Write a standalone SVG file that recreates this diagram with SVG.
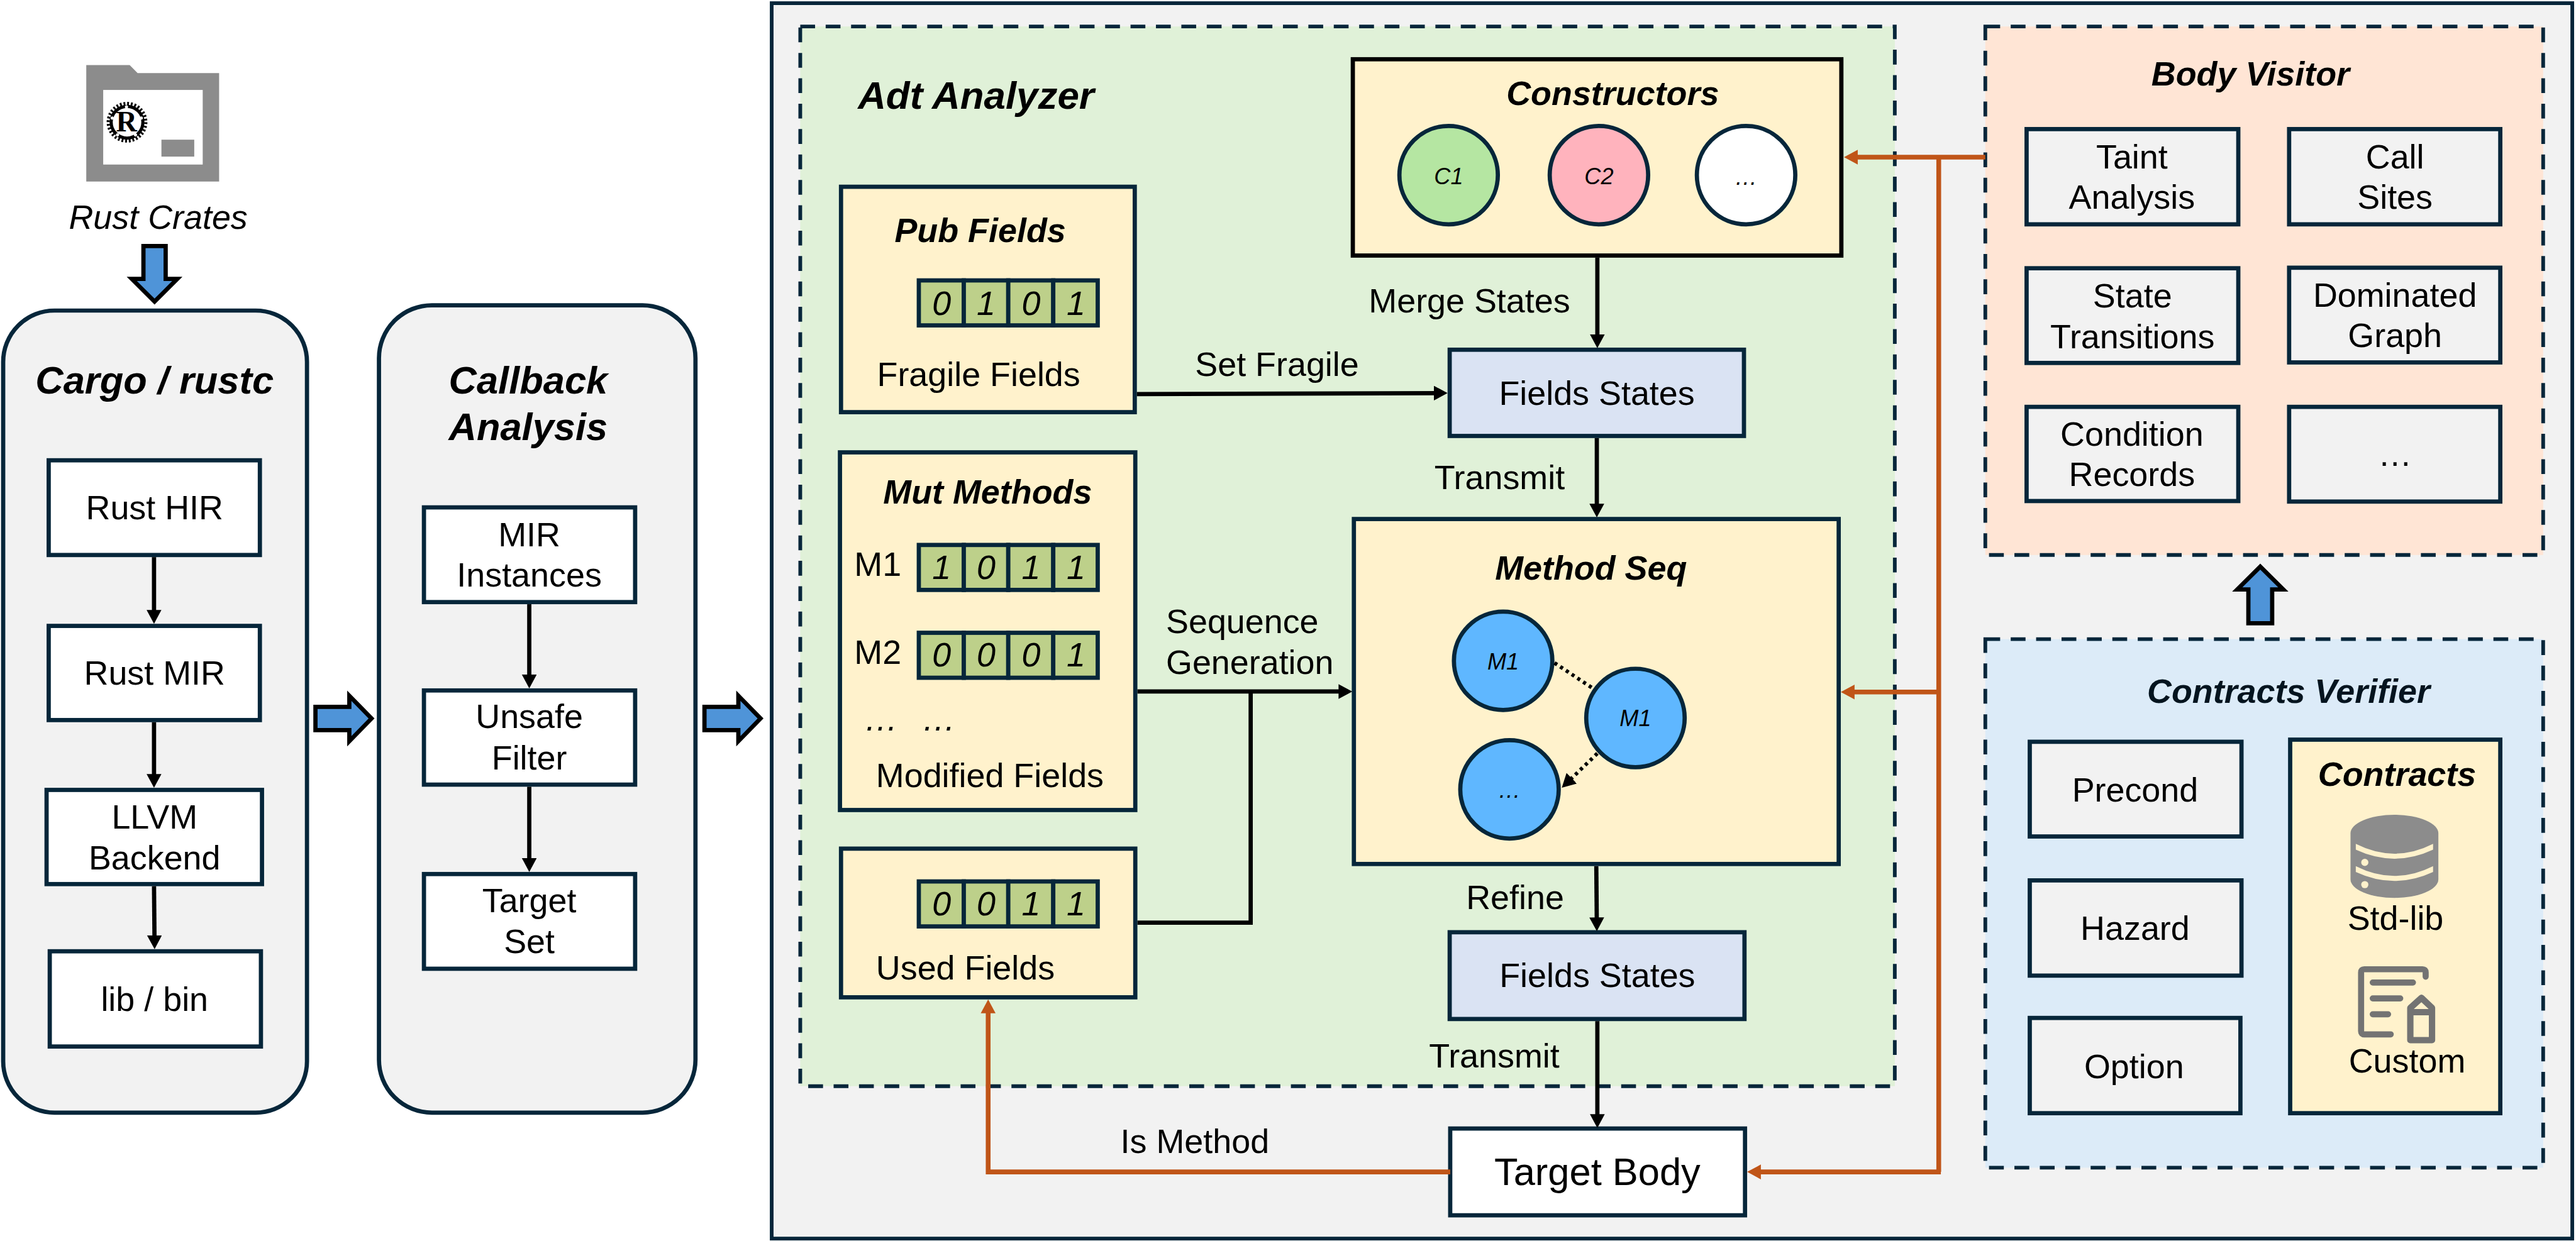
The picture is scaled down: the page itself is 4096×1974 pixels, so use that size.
<svg xmlns="http://www.w3.org/2000/svg" xmlns:xlink="http://www.w3.org/1999/xlink" width="4096" height="1974" viewBox="0 0 4096 1974">
<style>
text{font-family:"Liberation Sans",Arial,sans-serif;font-size:64px;fill:#000}
.m{text-anchor:middle}
.i{font-style:italic}
.b{font-weight:bold;font-style:italic}
.h{font-size:73px}
.s{font-size:43px;font-style:italic;text-anchor:middle}
.box{stroke:#06263a;stroke-width:8;fill:#fff}
.gray{fill:#f2f2f2}
.cream{fill:#fff2cc}
.state{fill:#dae3f3}
.dash{stroke:#06263a;stroke-width:7;stroke-dasharray:28 20}
.cell{fill:#bdd08a;stroke:#06263a;stroke-width:8}
.circ{stroke:#06263a;stroke-width:8}
.big{fill:#4f94d8;stroke:#000;stroke-width:8;stroke-miterlimit:10}
.k{fill:none;stroke:#000;stroke-width:8}
.o{fill:none;stroke:#c05518;stroke-width:9}
.ok{marker-end:url(#ah)}
.oo{marker-end:url(#oh)}
.dot{fill:none;stroke:#000;stroke-width:7;stroke-dasharray:6 7}
.ic{fill:none;stroke:#737373;stroke-width:11.5;stroke-linecap:round;stroke-linejoin:round}
</style>
<defs>
<marker id="ah" markerUnits="userSpaceOnUse" markerWidth="30" markerHeight="30" viewBox="0 0 30 30" refX="16" refY="14" orient="auto"><path d="M0 0L26 14L0 28z" fill="#000"/></marker>
<marker id="oh" markerUnits="userSpaceOnUse" markerWidth="30" markerHeight="30" viewBox="0 0 30 30" refX="16" refY="14" orient="auto"><path d="M0 0L26 14L0 28z" fill="#c05518"/></marker>
<g id="bits">
<rect class="cell" x="1736" y="0" width="85" height="85"/><rect class="cell" x="1821" y="0" width="84" height="85"/><rect class="cell" x="1905" y="0" width="85" height="85"/><rect class="cell" x="1990" y="0" width="84" height="85"/>
</g>
</defs>
<g transform="scale(.84158)">
<rect width="4867" height="2346" fill="#fff"/>

<g id="rust-crates">
<path d="M163 123H245L260 138H414V343H163Z" fill="#8c8c8c"/>
<rect x="195" y="170" width="188" height="141" fill="#fff"/>
<rect x="305" y="264" width="62" height="32" fill="#8c8c8c"/>
<circle cx="240" cy="231" r="35.5" fill="none" stroke="#000" stroke-width="6" stroke-dasharray="3.49 3.48"/>
<circle cx="240" cy="231" r="30" fill="#fff" stroke="#000" stroke-width="6"/>
<circle cx="239" cy="202" r="3" fill="#fff"/><circle cx="212" cy="223" r="3" fill="#fff"/><circle cx="267" cy="223" r="3" fill="#fff"/><circle cx="222" cy="255" r="3" fill="#fff"/><circle cx="256" cy="255" r="3" fill="#fff"/>
<text x="239" y="248" class="m" style="font-family:'Liberation Serif',serif;font-weight:bold;font-size:55px">R</text>
<text x="299" y="432" class="m i">Rust Crates</text>
</g>
<polygon id="arrow-in" class="big" points="271,465 313,465 313,527 335,527 292,570 249,527 271,527"/>

<g id="cargo">
<rect class="box gray" x="6" y="587" width="574" height="1516" rx="97"/>
<text x="292" y="744" class="m b h">Cargo / rustc</text>
</g>
<g id="rust-hir"><rect class="box" x="92" y="870" width="399" height="179"/><text x="292" y="981" class="m">Rust HIR</text></g>
<g id="rust-mir"><rect class="box" x="92" y="1183" width="399" height="178"/><text x="292" y="1294" class="m">Rust MIR</text></g>
<g id="llvm"><rect class="box" x="88" y="1493" width="407" height="178"/><text x="292" y="1566" class="m">LLVM</text><text x="292" y="1643" class="m">Backend</text></g>
<g id="lib-bin"><rect class="box" x="94" y="1798" width="399" height="180"/><text x="292" y="1911" class="m">lib / bin</text></g>

<g id="callback">
<rect class="box gray" x="716" y="577" width="598" height="1526" rx="100"/>
<text x="998" y="744" class="m b h">Callback</text><text x="998" y="832" class="m b h">Analysis</text>
</g>
<g id="mir-instances"><rect class="box" x="801" y="959" width="399" height="179"/><text x="1000" y="1032" class="m">MIR</text><text x="1000" y="1109" class="m">Instances</text></g>
<g id="unsafe-filter"><rect class="box" x="801" y="1305" width="399" height="178"/><text x="1000" y="1376" class="m">Unsafe</text><text x="1000" y="1454" class="m">Filter</text></g>
<g id="target-set"><rect class="box" x="801" y="1652" width="399" height="179"/><text x="1000" y="1724" class="m">Target</text><text x="1000" y="1801" class="m">Set</text></g>

<polygon id="arrow-a" class="big" points="596,1336 660,1336 660,1315 702,1358 660,1401 660,1380 596,1380"/>
<polygon id="arrow-b" class="big" points="1331,1336 1395,1336 1395,1315 1437,1358 1395,1401 1395,1380 1331,1380"/>

<g id="main"><rect x="1458" y="6" width="3402" height="2335" fill="#f2f2f2" stroke="#06263a" stroke-width="7"/></g>

<g id="adt-analyzer">
<rect class="dash" x="1512" y="50" width="2068" height="2003" fill="#e0f1d8"/>
<text x="1621" y="205" class="b" style="font-size:73.5px">Adt Analyzer</text>
</g>

<g id="pub-fields">
<rect class="box cream" x="1589" y="353" width="555" height="426"/>
<text x="1852" y="458" class="m b">Pub Fields</text>
<use xlink:href="#bits" href="#bits" y="530"/>
<g class="i"><text x="1779" y="595" class="m">0</text><text x="1863" y="595" class="m">1</text><text x="1948" y="595" class="m">0</text><text x="2033" y="595" class="m">1</text></g>
<text x="1657" y="729">Fragile Fields</text>
</g>

<g id="mut-methods">
<rect class="box cream" x="1587" y="855" width="558" height="676"/>
<text x="1866" y="952" class="m b">Mut Methods</text>
<text x="1614" y="1088">M1</text>
<use xlink:href="#bits" href="#bits" y="1030"/>
<g class="i"><text x="1779" y="1094" class="m">1</text><text x="1863" y="1094" class="m">0</text><text x="1948" y="1094" class="m">1</text><text x="2033" y="1094" class="m">1</text></g>
<text x="1614" y="1255">M2</text>
<use xlink:href="#bits" href="#bits" y="1196"/>
<g class="i"><text x="1779" y="1260" class="m">0</text><text x="1863" y="1260" class="m">0</text><text x="1948" y="1260" class="m">0</text><text x="2033" y="1260" class="m">1</text></g>
<text x="1633" y="1381" class="i">…</text><text x="1742" y="1381" class="i">…</text>
<text x="1655" y="1488">Modified Fields</text>
</g>

<g id="used-fields">
<rect class="box cream" x="1589" y="1604" width="556" height="281"/>
<use xlink:href="#bits" href="#bits" y="1666"/>
<g class="i"><text x="1779" y="1730" class="m">0</text><text x="1863" y="1730" class="m">0</text><text x="1948" y="1730" class="m">1</text><text x="2033" y="1730" class="m">1</text></g>
<text x="1655" y="1851">Used Fields</text>
</g>

<g id="constructors">
<rect class="cream" x="2556" y="112" width="923" height="371" stroke="#000" stroke-width="8"/>
<text x="3047" y="198" class="m b">Constructors</text>
<circle class="circ" cx="2737" cy="331" r="93" fill="#b5e6a2"/><text x="2737" y="348" class="s">C1</text>
<circle class="circ" cx="3021" cy="331" r="93" fill="#ffb3bd"/><text x="3021" y="348" class="s">C2</text>
<circle class="circ" cx="3299" cy="331" r="93" fill="#fff"/><text x="3299" y="349" class="s">…</text>
</g>

<g id="fields-states-1"><rect class="box state" x="2739" y="661" width="556" height="163"/><text x="3017" y="765" class="m">Fields States</text></g>

<g id="method-seq">
<rect class="box cream" x="2558" y="981" width="916" height="652"/>
<text x="3006" y="1096" class="m b">Method Seq</text>
<circle class="circ" cx="2840" cy="1249" r="93" fill="#5fb7ff"/><text x="2840" y="1266" class="s">M1</text>
<circle class="circ" cx="3090" cy="1357" r="93" fill="#5fb7ff"/><text x="3090" y="1373" class="s">M1</text>
<circle class="circ" cx="2852" cy="1492" r="93" fill="#5fb7ff"/><text x="2852" y="1508" class="s">…</text>
</g>

<g id="fields-states-2"><rect class="box state" x="2739" y="1762" width="557" height="164"/><text x="3018" y="1866" class="m">Fields States</text></g>
<g id="target-body"><rect class="box" x="2740" y="2133" width="557" height="164"/><text x="3018" y="2240" class="m" style="font-size:73px">Target Body</text></g>

<g id="body-visitor">
<rect class="dash" x="3751" y="50" width="1054" height="999" fill="#ffe5d5"/>
<text x="4252" y="162" class="m b">Body Visitor</text>
</g>
<g id="taint"><rect class="box gray" x="3829" y="244" width="400" height="180"/><text x="4028" y="318" class="m">Taint</text><text x="4028" y="395" class="m">Analysis</text></g>
<g id="call-sites"><rect class="box gray" x="4325" y="244" width="399" height="180"/><text x="4525" y="318" class="m">Call</text><text x="4525" y="395" class="m">Sites</text></g>
<g id="state-transitions"><rect class="box gray" x="3829" y="507" width="400" height="179"/><text x="4029" y="581" class="m">State</text><text x="4029" y="658" class="m">Transitions</text></g>
<g id="dominated-graph"><rect class="box gray" x="4325" y="506" width="399" height="179"/><text x="4525" y="580" class="m">Dominated</text><text x="4525" y="656" class="m">Graph</text></g>
<g id="condition-records"><rect class="box gray" x="3829" y="769" width="400" height="178"/><text x="4028" y="842" class="m">Condition</text><text x="4028" y="918" class="m">Records</text></g>
<g id="more"><rect class="box gray" x="4325" y="769" width="399" height="179"/><text x="4525" y="880" class="m">…</text></g>

<polygon id="arrow-up" class="big" points="4248,1178 4293,1178 4293,1114 4314,1114 4270.5,1071 4227,1114 4248,1114"/>

<g id="contracts-verifier">
<rect class="dash" x="3751" y="1208" width="1054" height="999" fill="#dcebf8"/>
<text x="4324" y="1328" class="m b" style="fill:#04141f">Contracts Verifier</text>
</g>
<g id="precond"><rect class="box gray" x="3835" y="1402" width="400" height="179"/><text x="4034" y="1515" class="m">Precond</text></g>
<g id="hazard"><rect class="box gray" x="3835" y="1664" width="400" height="180"/><text x="4034" y="1777" class="m">Hazard</text></g>
<g id="option"><rect class="box gray" x="3835" y="1924" width="398" height="180"/><text x="4032" y="2038" class="m">Option</text></g>

<g id="contracts">
<rect class="box cream" x="4327" y="1398" width="397" height="706"/>
<text x="4529" y="1485" class="m b">Contracts</text>
<path d="M4441 1575A83 35 0 0 1 4607 1575V1662A83 35 0 0 1 4441 1662Z" fill="#8c8c8c"/>
<path d="M4451 1595Q4524 1632 4597 1595V1606Q4524 1640 4451 1606Z" fill="#fff2cc"/>
<path d="M4451 1637Q4524 1674 4597 1637V1648Q4524 1682 4451 1648Z" fill="#fff2cc"/>
<circle cx="4468" cy="1630" r="6.8" fill="#fff2cc"/><circle cx="4468" cy="1672" r="6.8" fill="#fff2cc"/>
<text x="4526" y="1758" class="m">Std-lib</text>
<path class="ic" d="M4583 1846V1838Q4583 1832 4577 1832H4467Q4461 1832 4461 1838V1949Q4461 1955 4467 1955H4517M4483 1857H4559M4483 1887H4535M4483 1917H4512"/>
<path class="ic" d="M4554 1905L4575 1886L4595 1905V1966H4554ZM4554 1913H4595" style="stroke-width:12"/>
<text x="4548" y="2027" class="m">Custom</text>
</g>

<g id="connectors">
<path class="k ok" d="M291 1053V1169"/>
<path class="k ok" d="M291 1365V1479"/>
<path class="k ok" d="M291 1675L292 1784"/>
<path class="k ok" d="M1000 1142V1291"/>
<path class="k ok" d="M1000 1487V1638"/>
<path class="k ok" d="M2148 745L2725 743"/>
<path class="k ok" d="M3018 487V648"/>
<path class="k ok" d="M3017 828V968"/>
<path class="k ok" d="M2149 1307H2545"/>
<path class="k" d="M2149 1744H2363V1307"/>
<path class="k ok" d="M3016 1637L3017 1750"/>
<path class="k ok" d="M3018 1930V2122"/>
<path class="dot" d="M2937 1253L3008 1300"/>
<path class="dot ok" d="M3018 1424L2958 1482"/>
<path class="o oo" d="M3751 297H3494"/>
<path class="o" d="M3663 297V2215"/>
<path class="o oo" d="M3663 1308H3488"/>
<path class="o oo" d="M3667 2215H3311"/>
<path class="o oo" d="M2740 2215H1867V1899"/>
</g>

<g id="edge-labels">
<text x="2258" y="711">Set Fragile</text>
<text x="2586" y="591">Merge States</text>
<text x="2710" y="924">Transmit</text>
<text x="2203" y="1197">Sequence</text>
<text x="2203" y="1274">Generation</text>
<text x="2770" y="1718">Refine</text>
<text x="2700" y="2018">Transmit</text>
<text x="2117" y="2179">Is Method</text>
</g>
</g>
</svg>
